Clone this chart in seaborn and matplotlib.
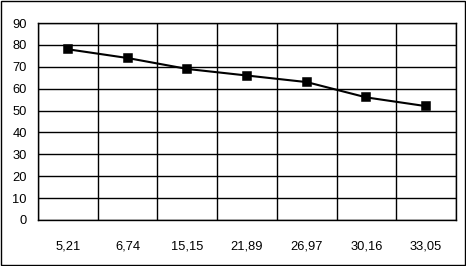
import matplotlib
matplotlib.use("Agg")
import matplotlib.pyplot as plt
from matplotlib.patches import Rectangle
import seaborn as sns
import pandas as pd
import numpy as np

categories = ["5,21", "6,74", "15,15", "21,89", "26,97", "30,16", "33,05"]
values = [78, 74, 69, 66, 63, 56, 52]
yticks = [0, 10, 20, 30, 40, 50, 60, 70, 80, 90]

sns.set_style("white")
plt.rcParams['font.family'] = ['Liberation Sans', 'DejaVu Sans']

df = pd.DataFrame({"cat": categories, "val": values})

fig = plt.figure(figsize=(4.66, 2.66), dpi=100)
ax = fig.add_axes([38/466, 46/266, 418/466, 197/266])

sns.pointplot(data=df, x="cat", y="val", order=categories, color="black",
              markers="s", linestyles="-", markersize=6, linewidth=1.5, ax=ax)

n = len(categories)
ax.set_xlim(-0.5, n - 0.5)
ax.set_ylim(0, 90)
ax.set_yticks(yticks)
ax.set_yticklabels([str(t) for t in yticks])
ax.set_xticks(np.arange(-0.5, n, 1.0))
ax.set_xticklabels([])
ax.set_xticks(np.arange(n), minor=True)
ax.set_xticklabels(categories, minor=True)
ax.tick_params(axis='x', which='major', length=3.5, width=1, color='black', direction='out')
ax.tick_params(axis='x', which='minor', length=0, pad=15, labelsize=9.3, labelcolor='black')
ax.tick_params(axis='y', length=3.6, width=1, color='black', direction='out', labelsize=9.3,
               labelcolor='black', pad=4.5)
ax.grid(True, which='major', color='black', linewidth=1)
ax.set_axisbelow(True)
for s in ax.spines.values():
    s.set_color('black')
    s.set_linewidth(1)
ax.set_xlabel("")
ax.set_ylabel("")

fig.patches.append(Rectangle((0.5/466, 1.5/266), 464.5/466, 263.5/266, transform=fig.transFigure,
                             fill=False, edgecolor='black', linewidth=1))

fig.savefig("out.png", dpi=100)
